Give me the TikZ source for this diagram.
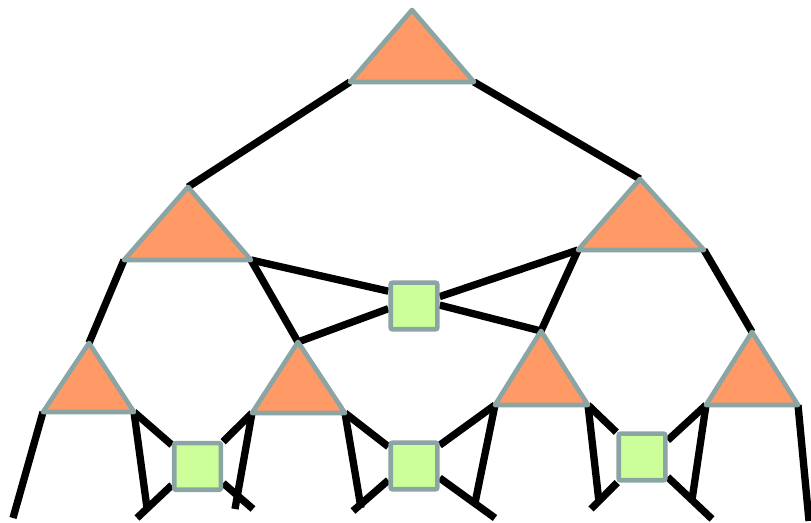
\documentclass[tikz,border=0pt]{standalone}
\definecolor{triorange}{RGB}{255,153,102}
\definecolor{sqgreen}{RGB}{204,255,153}
\definecolor{edgegray}{RGB}{139,165,165}
\begin{document}
\begin{tikzpicture}[x=0.75pt,y=-0.75pt,
  leg/.style={line width=5.5pt, draw=black},
  tri/.style={fill=triorange, draw=edgegray, line width=3.5pt, line join=round},
  sq/.style={rectangle, fill=sqgreen, draw=edgegray, line width=3.5pt, minimum size=35pt, inner sep=0pt, rounded corners=1.5pt}]
\useasboundingbox (0,0) rectangle (811,523);
% triangle corners
\coordinate (T0a) at (412,10);  \coordinate (T0l) at (350,82);  \coordinate (T0r) at (474,82);
\coordinate (T1a) at (188,187); \coordinate (T1l) at (124,260); \coordinate (T1r) at (251,260);
\coordinate (T2a) at (640,179); \coordinate (T2l) at (578,250); \coordinate (T2r) at (704,250);
\coordinate (B1a) at (89,343);  \coordinate (B1l) at (43,412);  \coordinate (B1r) at (134,412);
\coordinate (B2a) at (298,342); \coordinate (B2l) at (252,413); \coordinate (B2r) at (345,413);
\coordinate (B3a) at (541,331); \coordinate (B3l) at (495,405); \coordinate (B3r) at (588,405);
\coordinate (B4a) at (752,332); \coordinate (B4l) at (706,405); \coordinate (B4r) at (798,405);
% free leg ends
\coordinate (e1a) at (13,518);
\coordinate (e1b) at (147,508);
\coordinate (e1c) at (137,518);
\coordinate (e2a) at (235,509);
\coordinate (e2b) at (253,509);
\coordinate (e3a) at (361,508);
\coordinate (e3b) at (353,511);
\coordinate (e4a) at (475,503);
\coordinate (e4b) at (495,518);
\coordinate (e5a) at (599,502);
\coordinate (e5b) at (591,509);
\coordinate (e6a) at (692,500);
\coordinate (e6b) at (712,519);
\coordinate (e7a) at (809,521);
% squares (placed first for names, redrawn on top later)
\path (414,306) node[sq, draw=none, fill=none] (sC) {};
\path (197.5,466.5) node[sq, draw=none, fill=none] (s1) {};
\path (414,466) node[sq, draw=none, fill=none] (s2) {};
\path (642,457) node[sq, draw=none, fill=none] (s3) {};
% legs
\draw[leg] (T0l) -- (T1a);
\draw[leg] (T0r) -- (T2a);
\draw[leg] (T1l) -- (B1a);
\draw[leg] (T1r) -- (B2a);
\draw[leg] (T2l) -- (B3a);
\draw[leg] (T2r) -- (B4a);
\draw[leg] (T1r) -- (sC.150);
\draw[leg] (B2a) -- (sC.186);
\draw[leg] (T2l) -- (sC.20);
\draw[leg] (B3a) -- (sC.2);
\draw[leg] (B1l) -- (e1a);
\draw[leg] (B1r) -- (e1b);
\draw[leg] (B1r) -- (s1.140);
\draw[leg] (s1.216) -- (e1c);
\draw[leg] (s1.44) -- (B2l);
\draw[leg] (B2l) -- (e2a);
\draw[leg] (s1.-33) -- (e2b);
\draw[leg] (B2r) -- (s2.143);
\draw[leg] (B2r) -- (e3a);
\draw[leg] (s2.209) -- (e3b);
\draw[leg] (s2.39) -- (B3l);
\draw[leg] (B3l) -- (e4a);
\draw[leg] (s2.-25) -- (e4b);
\draw[leg] (B3r) -- (s3.136);
\draw[leg] (B3r) -- (e5a);
\draw[leg] (s3.226) -- (e5b);
\draw[leg] (s3.33) -- (B4l);
\draw[leg] (B4l) -- (e6a);
\draw[leg] (s3.-38) -- (e6b);
\draw[leg] (B4r) -- (e7a);
% tensors
\draw[tri] (T0a) -- (T0l) -- (T0r) -- cycle;
\draw[tri] (T1a) -- (T1l) -- (T1r) -- cycle;
\draw[tri] (T2a) -- (T2l) -- (T2r) -- cycle;
\draw[tri] (B1a) -- (B1l) -- (B1r) -- cycle;
\draw[tri] (B2a) -- (B2l) -- (B2r) -- cycle;
\draw[tri] (B3a) -- (B3l) -- (B3r) -- cycle;
\draw[tri] (B4a) -- (B4l) -- (B4r) -- cycle;
\node[sq] at (sC.center) {};
\node[sq] at (s1.center) {};
\node[sq] at (s2.center) {};
\node[sq] at (s3.center) {};
\end{tikzpicture}
\end{document}
